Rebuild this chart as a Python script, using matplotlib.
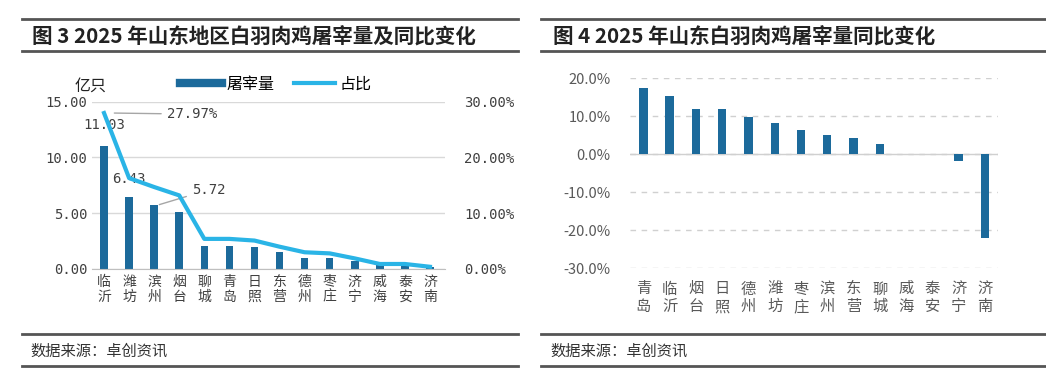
import matplotlib.pyplot as plt
from matplotlib.lines import Line2D

plt.rcParams['font.family'] = ['Noto Sans CJK SC', 'DejaVu Sans']

# 图3 数据
cities_l = ["临沂", "潍坊", "滨州", "烟台", "聊城", "青岛", "日照",
            "东营", "德州", "枣庄", "济宁", "威海", "泰安", "济南"]
slaughter = [11.03, 6.43, 5.72, 5.14, 2.08, 2.07, 1.97,
             1.50, 0.97, 0.95, 0.68, 0.32, 0.32, 0.16]
share = [27.97, 16.3, 14.7, 13.2, 5.4, 5.4, 5.1,
         4.0, 3.0, 2.8, 1.9, 0.9, 0.9, 0.4]
yticks_l = [0, 5, 10, 15]
yticks_r = [0, 10, 20, 30]

# 图4 数据
cities_r = ["青岛", "临沂", "烟台", "日照", "德州", "潍坊", "枣庄",
            "滨州", "东营", "聊城", "威海", "泰安", "济宁", "济南"]
yoy = [17.4, 15.4, 11.8, 11.8, 9.7, 8.3, 6.4,
       5.1, 4.4, 2.7, 0.0, 0.0, -1.8, -21.9]
yticks_yoy = [-30, -20, -10, 0, 10, 20]

bar_c = "#1c6a9b"
line_c = "#2ab4e6"
W, H = 1046, 381

fig = plt.figure(figsize=(W / 100, H / 100), dpi=100)


def px(x0, y0, x1, y1):
    return [x0 / W, 1 - y1 / H, (x1 - x0) / W, (y1 - y0) / H]


def hline(x0, x1, y, lw=2.0, c="#555555"):
    fig.add_artist(Line2D([x0 / W, x1 / W], [1 - y / H, 1 - y / H],
                          color=c, lw=lw, transform=fig.transFigure))


# 标题和底部框线
for x0, x1 in [(22, 518), (541, 1046)]:
    hline(x0, x1, 19)
    hline(x0, x1, 51)
    hline(x0, x1, 334)
    hline(x0, x1, 366)
fig.text(32 / W, 1 - 36 / H, "图 3 2025 年山东地区白羽肉鸡屠宰量及同比变化",
         fontsize=14.8, fontweight="bold", va="center", color="#222222")
fig.text(553 / W, 1 - 36 / H, "图 4 2025 年山东白羽肉鸡屠宰量同比变化",
         fontsize=14.8, fontweight="bold", va="center", color="#222222")
for x in [30, 550]:
    fig.text(x / W, 1 - 351 / H, "数据来源：卓创资讯", fontsize=11,
             va="center", color="#333333")

# ---- 图3 ----
ax = fig.add_axes(px(92, 101.7, 445, 269))
xs = range(len(cities_l))
ax.bar(xs, slaughter, width=0.3, color=bar_c, zorder=2)
ax.set_ylim(0, 15)
ax.set_xlim(-0.48, 13.6)
ax.set_yticks(yticks_l)
ax.set_yticklabels([f"{v:.2f}" for v in yticks_l], family="DejaVu Sans Mono")
ax.grid(axis="y", color="#d9d9d9", lw=1)
ax.set_axisbelow(True)
ax.set_xticks(list(xs))
ax.set_xticklabels(["\n".join(c) for c in cities_l], fontsize=10.5,
                   linespacing=1.1, color="#333333")
for s in ["top", "right", "left"]:
    ax.spines[s].set_visible(False)
ax.spines["bottom"].set_color("#bfbfbf")
ax.tick_params(length=0, labelsize=10, colors="#404040")
ax.tick_params(axis="x", pad=4)

ax2 = ax.twinx()
ax2.plot(xs, share, color=line_c, lw=3, zorder=3)
ax2.set_ylim(0, 30)
ax2.set_yticks(yticks_r)
ax2.set_yticklabels([f"{v:.2f}%" for v in yticks_r], family="DejaVu Sans Mono")
for s in ["top", "right", "left", "bottom"]:
    ax2.spines[s].set_visible(False)
ax2.tick_params(length=0, labelsize=10, colors="#404040", pad=14)

# 数据标注
ax2.annotate(f"{share[0]:.2f}%", xy=(0.3, share[0]), xytext=(2.5, share[0] - 0.2),
             fontsize=10, family="DejaVu Sans Mono", color="#404040", va="center",
             arrowprops=dict(arrowstyle="-", color="#a6a6a6", lw=1))
ax.text(0, 12.9, f"{slaughter[0]:.2f}", ha="center", va="center", fontsize=10,
        family="DejaVu Sans Mono", color="#404040")
ax.text(1.0, 8.1, f"{slaughter[1]:.2f}", ha="center", va="center", fontsize=10,
        family="DejaVu Sans Mono", color="#404040")
ax.annotate(f"{slaughter[2]:.2f}", xy=(2.1, 5.7), xytext=(3.5, 7.1),
            fontsize=10, family="DejaVu Sans Mono", color="#404040", va="center",
            arrowprops=dict(arrowstyle="-", color="#a6a6a6", lw=1))

fig.text(75 / W, 1 - 86 / H, "亿只", fontsize=11.5, va="center", color="#222222")
handles = [Line2D([], [], color=bar_c, lw=6), Line2D([], [], color=line_c, lw=3)]
fig.legend(handles, ["屠宰量", "占比"], loc="center", ncol=2,
           bbox_to_anchor=(276 / W, 1 - 84 / H), frameon=False, fontsize=11.5,
           handlelength=2.6, columnspacing=1.2, handletextpad=0.3)

# ---- 图4 ----
bx = fig.add_axes(px(630, 78.3, 998, 268.3))
xr = range(len(cities_r))
bx.bar(xr, yoy, width=0.32, color=bar_c, zorder=2)
bx.set_ylim(-30, 20)
bx.set_xlim(-0.51, 13.5)
bx.set_yticks(yticks_yoy)
bx.set_yticklabels([f"{v:.1f}%" for v in yticks_yoy])
bx.grid(axis="y", color="#d0d0d0", lw=1, ls=(0, (4, 4)))
bx.axhline(0, color="#d0d0d0", lw=1, zorder=1)
bx.set_axisbelow(True)
bx.set_xticks([])
for s in ["top", "right", "left", "bottom"]:
    bx.spines[s].set_visible(False)
bx.tick_params(length=0, labelsize=10.5, colors="#595959", pad=14)
for i, c in enumerate(cities_r):
    bx.text(i, -33.2, "\n".join(c), ha="center", va="top", fontsize=11,
            linespacing=1.05, color="#595959")

fig.savefig("out.png", dpi=100)
